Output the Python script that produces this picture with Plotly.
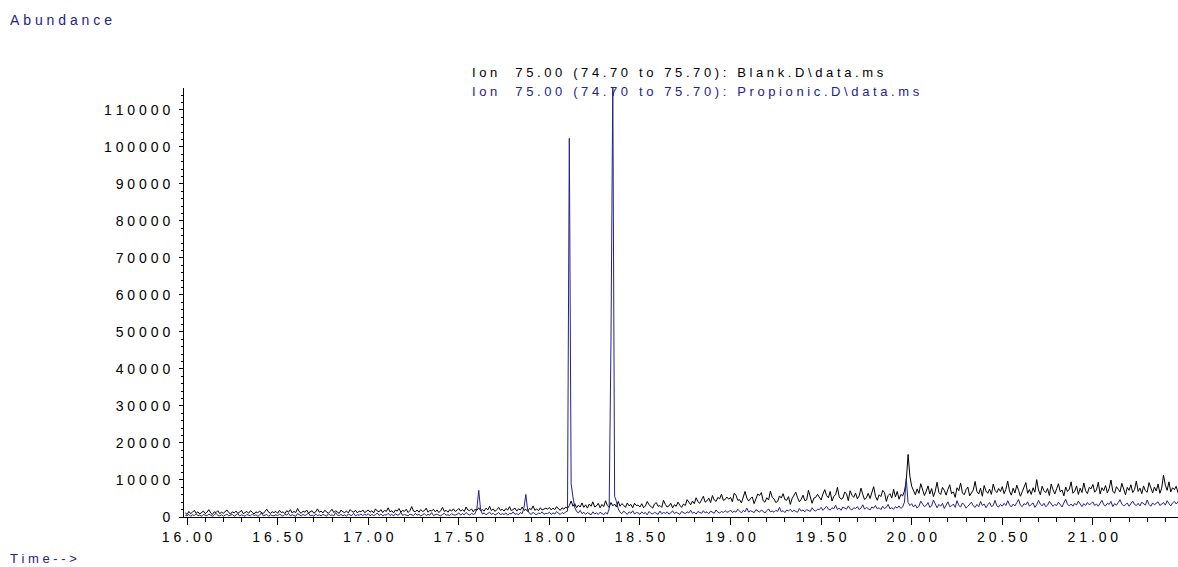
import plotly.graph_objects as go

# Scan grid: one scan every 0.01 min starting at 15.99 min
T_START = 15.99
T_STEP = 0.01

# Ion 75.00 abundance, Blank run (rows of 10 scans, 50 scans per half minute)
blank = [
    # 15.99 - 16.48
    1100, 700, 1500, 900, 1300, 1800, 1000, 1400, 800, 1200,
    1600, 900, 1300, 2000, 1100, 700, 1400, 1200, 1700, 900,
    1300, 1000, 1500, 1900, 1200, 800, 1400, 1100, 1600, 1000,
    1300, 1800, 900, 1200, 1500, 1000, 1700, 1300, 800, 1400,
    1100, 1600, 1200, 900, 1500, 2100, 1300, 1000, 1400, 1200,
    # 16.49 - 16.98
    1500, 1000, 1800, 1200, 1400, 900, 1700, 1300, 2000, 1100,
    1500, 1200, 2300, 1400, 1000, 1600, 1300, 1900, 1100, 1500,
    1700, 1000, 1400, 2200, 1300, 1600, 1100, 1800, 1400, 1000,
    1500, 2100, 1200, 1700, 1300, 1000, 1900, 1400, 1200, 1600,
    1100, 2000, 1500, 1300, 1800, 1100, 1600, 1400, 1900, 1200,
    # 16.99 - 17.48
    1500, 1900, 1300, 1700, 1100, 2200, 1600, 1400, 2000, 1200,
    1800, 1500, 2500, 1400, 1700, 1100, 1900, 1600, 2300, 1300,
    1800, 1500, 2100, 1200, 1700, 2800, 1600, 1400, 1900, 1300,
    2000, 1500, 1700, 2400, 1300, 1800, 1600, 2100, 1400, 1900,
    1200, 1700, 2600, 1500, 1800, 1300, 2000, 1600, 2200, 1500,
    # 17.49 - 17.98
    1800, 2300, 1600, 2000, 1500, 2700, 1900, 1700, 2200, 1400,
    2100, 1800, 2500, 1700, 2000, 1600, 2400, 1900, 2900, 1700,
    2200, 1500, 2000, 2600, 1800, 2100, 1600, 2300, 1900, 2800,
    1700, 2000, 2400, 1600, 2200, 1900, 2700, 1800, 2100, 1500,
    2300, 2000, 3000, 1800, 2200, 1700, 2500, 1900, 2100, 2400,
    # 17.99 - 18.48
    2100, 2600, 1900, 2400, 2000, 2800, 2200, 1800, 2500, 2100,
    2700, 2300, 3100, 4300, 2900, 3600, 2500, 3200, 2700, 3800,
    2600, 3300, 2400, 3500, 2900, 4100, 2700, 3000, 3700, 2500,
    3400, 2800, 4400, 3100, 2600, 3900, 3000, 3500, 2700, 4200,
    2900, 3600, 3200, 2600, 3800, 3000, 3400, 2500, 3700, 3100,
    # 18.49 - 18.98
    3200, 2700, 3600, 2500, 3000, 4200, 3300, 2800, 2400, 3500,
    3900, 2900, 3100, 2600, 4500, 3400, 2700, 3000, 3700, 2500,
    3300, 2900, 4000, 3200, 2600, 3500, 3100, 4700, 3800, 3300,
    4300, 3600, 5200, 4100, 3700, 4800, 5600, 4000, 4400, 5100,
    3900, 5800, 4600, 4200, 5300, 4900, 6200, 4500, 4700, 5400,
    # 18.99 - 19.48
    4800, 5300, 4100, 6400, 5900, 4500, 4700, 3800, 5600, 6900,
    5100, 4300, 5000, 5400, 3600, 4900, 6200, 5800, 6600, 4400,
    4000, 5200, 4600, 7000, 5300, 4900, 3900, 4200, 5700, 5100,
    6300, 4700, 4500, 5500, 3400, 5000, 6000, 6700, 5200, 4100,
    4800, 5900, 4400, 4600, 7200, 5400, 3700, 5100, 5300, 6100,
    # 19.49 - 19.98
    5500, 4600, 6200, 7400, 5800, 5200, 6900, 4300, 5600, 6000,
    8000, 5400, 4800, 5100, 6700, 6300, 4400, 7100, 5900, 5300,
    6500, 4900, 5700, 7800, 6100, 4700, 5200, 6400, 5000, 6800,
    8200, 5600, 4500, 6000, 5500, 7200, 6600, 4200, 5800, 6300,
    5100, 7500, 5400, 6900, 4800, 6100, 5700, 7000, 9800, 16900,
    # 19.99 - 20.48
    11000, 8300, 7100, 6000, 7600, 6400, 9000, 7300, 5800, 6900,
    8400, 6200, 7700, 5500, 7000, 9400, 6600, 6100, 8000, 7200,
    5900, 7500, 8700, 6300, 6800, 5300, 7900, 7100, 9200, 6500,
    6000, 7400, 8100, 5700, 6700, 7300, 9600, 6900, 6200, 7800,
    5600, 8500, 7000, 6400, 7500, 6100, 8900, 7200, 6600, 7700,
    # 20.49 - 20.98
    6900, 8200, 6300, 7500, 9700, 7000, 5900, 7800, 6500, 8600,
    7200, 5600, 6800, 8000, 9300, 6400, 7400, 6100, 7900, 6700,
    10100, 7300, 6000, 8300, 7100, 6600, 7700, 5800, 8900, 7400,
    6200, 7600, 9000, 6800, 7300, 5700, 8100, 6900, 7500, 9500,
    6400, 7000, 8400, 6100, 7800, 6600, 9200, 7100, 6300, 8000,
    # 20.99 - 21.48
    7600, 8800, 6700, 7300, 9400, 6200, 7900, 7100, 8500, 6500,
    7700, 10000, 7000, 6400, 8200, 7500, 6800, 9100, 7300, 6000,
    8000, 7200, 8700, 6600, 7400, 9700, 6900, 7800, 6300, 8400,
    7100, 6700, 9300, 7600, 6500, 8100, 7000, 8900, 6400, 7800,
    11300, 8600, 7200, 9500, 6800, 7900, 7400, 8300, 6600, 9000,
]

# Ion 75.00 abundance, Propionic run
propionic = [
    # 15.99 - 16.48
    500, 300, 700, 200, 600, 400, 900, 300, 500, 200,
    700, 400, 300, 800, 500, 200, 600, 1000, 400, 300,
    600, 200, 500, 800, 300, 400, 700, 200, 500, 900,
    300, 600, 400, 200, 700, 500, 300, 800, 400, 600,
    200, 500, 1100, 300, 400, 700, 200, 600, 400, 300,
    # 16.49 - 16.98
    600, 300, 800, 400, 200, 700, 500, 1000, 300, 600,
    400, 200, 900, 500, 300, 700, 400, 600, 1100, 300,
    500, 200, 800, 400, 600, 300, 700, 500, 200, 900,
    400, 600, 300, 1200, 500, 400, 700, 300, 600, 200,
    800, 500, 400, 1000, 300, 600, 500, 800, 400, 700,
    # 16.99 - 17.48
    500, 900, 300, 700, 400, 600, 1100, 400, 800, 300,
    600, 500, 1000, 400, 700, 300, 900, 500, 600, 1300,
    400, 700, 500, 300, 800, 600, 400, 1000, 500, 700,
    300, 600, 900, 400, 700, 500, 1200, 400, 600, 800,
    500, 300, 700, 1000, 500, 600, 400, 900, 600, 500,
    # 17.49 - 17.98
    700, 1100, 500, 900, 600, 1200, 800, 500, 1000, 700,
    900, 2400, 7200, 2100, 800, 1100, 600, 900, 1300, 700,
    1000, 500, 800, 1200, 600, 900, 700, 1100, 500, 1000,
    800, 1400, 700, 900, 600, 1200, 900, 2600, 6100, 1900,
    1000, 700, 1300, 800, 600, 1100, 900, 1400, 700, 1000,
    # 17.99 - 18.48
    900, 1300, 700, 1100, 800, 1500, 1000, 700, 1200, 900,
    1400, 1600, 102300, 9000, 5400, 2600, 1500, 1100, 1800, 900,
    1300, 700, 1200, 1000, 600, 1400, 800, 1100, 700, 1300,
    900, 600, 1200, 800, 2200, 47500, 117000, 5600, 4200, 2200,
    1300, 900, 1600, 1100, 700, 1400, 1000, 1700, 800, 1200,
    # 18.49 - 18.98
    1100, 700, 1400, 900, 1200, 600, 1500, 1000, 800, 1300,
    1100, 700, 1600, 900, 1200, 1000, 1400, 800, 1100, 1700,
    900, 1300, 1000, 700, 1500, 1200, 900, 1400, 1100, 1800,
    1000, 1300, 800, 1500, 1200, 1000, 1700, 1100, 1400, 900,
    1600, 1200, 1000, 1900, 1300, 1100, 1500, 1200, 1700, 1300,
    # 18.99 - 19.48
    1400, 1900, 1200, 1600, 1300, 2100, 1500, 1100, 1800, 1400,
    2400, 1300, 1700, 1500, 1200, 2000, 1600, 1300, 1900, 1500,
    1100, 1700, 2200, 1400, 1600, 1300, 1800, 1500, 2600, 1400,
    1700, 1200, 1900, 1600, 2100, 1400, 1800, 1500, 1300, 2300,
    1600, 1900, 1400, 2000, 1700, 1500, 2500, 1800, 1600, 2100,
    # 19.49 - 19.98
    2000, 2600, 1800, 2300, 2900, 2100, 1900, 2500, 2200, 3200,
    2000, 2400, 1800, 2700, 2300, 2100, 3000, 2200, 1900, 2500,
    2300, 2800, 2000, 2400, 3300, 2100, 2600, 2200, 1900, 2700,
    2400, 3100, 2200, 2500, 2000, 2900, 2300, 2600, 3400, 2200,
    2500, 2100, 2800, 2400, 3000, 2300, 2700, 4000, 10400, 3900,
    # 19.99 - 20.48
    3100, 3600, 2700, 3300, 2400, 2900, 4300, 3500, 2800, 3100,
    3900, 2600, 3000, 4600, 3300, 2500, 3400, 2900, 3700, 2300,
    3200, 4100, 2800, 3000, 3500, 2600, 4400, 3100, 2700, 3800,
    3300, 2400, 2900, 3600, 4000, 3000, 2600, 3400, 2800, 4200,
    3100, 3500, 2500, 3300, 3900, 2800, 3100, 4500, 3000, 2700,
    # 20.49 - 20.98
    3400, 2900, 3700, 3100, 4400, 3300, 2700, 3500, 3000, 3900,
    4700, 3200, 2800, 3600, 3300, 4100, 2900, 3400, 3800, 2600,
    3300, 4500, 3500, 3000, 3700, 2800, 3200, 4200, 3600, 2900,
    3400, 3100, 4000, 3300, 2700, 3800, 4800, 3400, 3000, 3500,
    2900, 3700, 3200, 4300, 3500, 2800, 3600, 3100, 3900, 3300,
    # 20.99 - 21.48
    3600, 4100, 3100, 3500, 2900, 3800, 4500, 3300, 3000, 3700,
    3400, 4200, 2800, 3600, 3200, 3900, 4700, 3500, 3000, 3300,
    3800, 2900, 3600, 4300, 3400, 3100, 3700, 3000, 4000, 3500,
    3200, 4600, 3400, 2900, 3800, 3300, 3600, 4100, 3100, 3500,
    3900, 3200, 4400, 3600, 3000, 3800, 4200, 3500, 4000, 4700,
]

times = [round(T_START + T_STEP * i, 2) for i in range(len(blank))]

y_ticks = [0, 10000, 20000, 30000, 40000, 50000, 60000, 70000, 80000, 90000, 100000, 110000]
x_ticks = [16.0, 16.5, 17.0, 17.5, 18.0, 18.5, 19.0, 19.5, 20.0, 20.5, 21.0]

title_blank = "Ion  75.00 (74.70 to 75.70): Blank.D\\data.ms"
title_prop = "Ion  75.00 (74.70 to 75.70): Propionic.D\\data.ms"

NAVY = "#22228f"
FONT = "Liberation Sans, Arial, sans-serif"
GAP = "\u00a0"


def spaced(s):
    """Letter-spaced rendering of a label."""
    return GAP.join(GAP if ch == " " else ch for ch in s)


fig = go.Figure()
fig.add_trace(go.Scatter(x=times, y=blank, mode="lines",
                         line=dict(color="black", width=1), name="Blank"))
fig.add_trace(go.Scatter(x=times[:len(propionic)], y=propionic, mode="lines",
                         line=dict(color=NAVY, width=1), name="Propionic"))

fig.update_layout(
    width=1178, height=567,
    margin=dict(l=184, r=0, t=88, b=50, pad=0),
    paper_bgcolor="white", plot_bgcolor="white",
    showlegend=False,
    font=dict(family=FONT, size=14, color="black"),
    xaxis=dict(
        range=[15.983, 21.47], showgrid=False, zeroline=False,
        showline=True, linecolor="black", linewidth=1,
        ticks="outside", ticklen=7, tickcolor="black", tickwidth=1,
        tickvals=x_ticks, ticktext=[spaced(f"{v:.2f}") for v in x_ticks],
        tickfont=dict(size=14),
        minor=dict(dtick=0.1, tick0=16.0, ticks="outside", ticklen=4,
                   tickcolor="black", showgrid=False),
    ),
    yaxis=dict(
        range=[0, 115900], showgrid=False, zeroline=False,
        showline=True, linecolor="black", linewidth=1,
        ticks="outside", ticklen=4, tickcolor="black", tickwidth=1,
        tickvals=y_ticks, ticktext=[spaced(str(v)) for v in y_ticks],
        tickfont=dict(size=14), ticklabelstandoff=6,
        minor=dict(dtick=2000, tick0=0, ticks="outside", ticklen=2,
                   tickcolor="black", showgrid=False),
    ),
    annotations=[
        dict(text=spaced(title_blank), xref="paper", yref="paper",
             x=0.2877, y=1.035, xanchor="left", yanchor="middle",
             showarrow=False, font=dict(size=13, color="black")),
        dict(text=spaced(title_prop), xref="paper", yref="paper",
             x=0.2877, y=0.993, xanchor="left", yanchor="middle",
             showarrow=False, font=dict(size=13, color=NAVY)),
        dict(text=spaced("Abundance"), xref="paper", yref="paper",
             x=-0.177, y=1.1586, xanchor="left", yanchor="middle",
             showarrow=False, font=dict(size=14, color=NAVY)),
        dict(text=spaced("Time-->"), xref="paper", yref="paper",
             x=-0.177, y=-0.0963, xanchor="left", yanchor="middle",
             showarrow=False, font=dict(size=13, color=NAVY)),
    ],
)

fig.write_html("out.html")
